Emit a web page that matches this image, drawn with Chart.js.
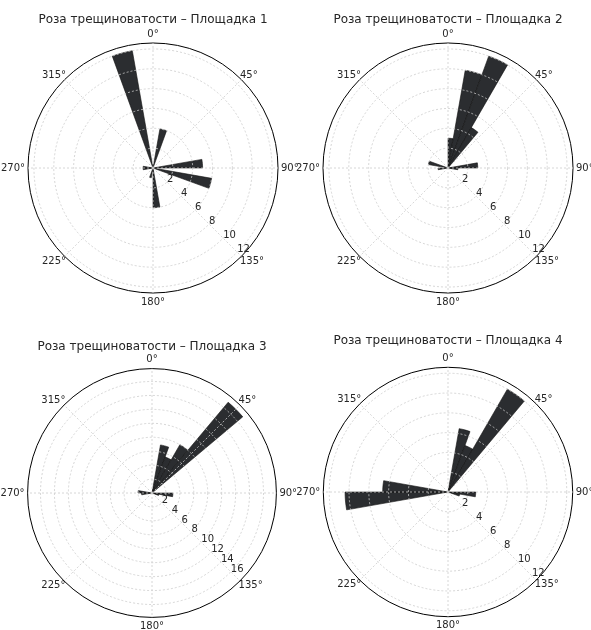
<!DOCTYPE html>
<html lang="ru">
<head>
<meta charset="utf-8">
<title>Роза трещиноватости</title>
<script src="https://cdn.jsdelivr.net/npm/chart.js@4.4.1/dist/chart.umd.min.js"></script>
<style>
  html, body { margin: 0; padding: 0; background: #fff; }
  body { width: 591px; height: 630px; position: relative; overflow: hidden; }
  canvas { position: absolute; }
</style>
</head>
<body>
<canvas id="rose1" width="360" height="320"></canvas>
<canvas id="rose2" width="360" height="320"></canvas>
<canvas id="rose3" width="360" height="320"></canvas>
<canvas id="rose4" width="360" height="320"></canvas>
<script>
'use strict';

// 10-degree strike bins, clockwise from north
const binStarts = [
  0, 10, 20, 30, 40, 50, 60, 70, 80,
  90, 100, 110, 120, 130, 140, 150, 160, 170,
  180, 190, 200, 210, 220, 230, 240, 250, 260,
  270, 280, 290, 300, 310, 320, 330, 340, 350,
];
const angleLabels = ['0°', '45°', '90°', '135°', '180°', '225°', '270°', '315°'];

const titles = [
  'Роза трещиноватости – Площадка 1',
  'Роза трещиноватости – Площадка 2',
  'Роза трещиноватости – Площадка 3',
  'Роза трещиноватости – Площадка 4',
];

const site1 = [
  0, 4, 0, 0, 0, 0, 0, 0, 5,
  0, 6, 0, 0, 0, 0, 0, 0, 4,
  0, 1, 0, 0, 0, 0, 0, 0, 1,
  1, 0, 0, 0, 0, 0, 0, 12, 0,
];
const site2 = [
  3, 10, 12, 4.7, 0, 0, 0, 0, 3,
  1, 0, 0, 0, 0, 0, 0, 0, 0,
  0, 0, 0, 0, 0, 0, 0, 0, 1,
  0, 2, 0, 0, 0, 0, 0, 0, 0,
];
const site3 = [
  0, 7, 5.5, 8, 17, 0, 0, 0, 0,
  3, 1, 0, 0, 0, 0, 0, 0, 0,
  0, 0, 0, 0, 0, 0, 0, 0, 1.5,
  2, 0, 0, 0, 0, 0, 0, 0, 0,
];
const site4 = [
  0, 6.5, 5, 12, 0, 0, 0, 0, 0,
  2.8, 1.2, 0, 0, 0, 0, 0, 0, 0,
  0, 0, 0, 0, 0, 0, 0, 0, 10.4,
  6.6, 0, 0, 0, 0, 0, 0, 0, 0,
];

const rTicks12 = [2, 4, 6, 8, 10, 12];
const rTicks16 = [2, 4, 6, 8, 10, 12, 14, 16];
const rMax12 = 12.6;
const rMax17 = 17.85;

const FONT = 'DejaVu Sans';
const TEXT = '#262626';
const BAR_FILL = '#2b2d30';
const BAR_EDGE = '#111111';
const GRID = '#cccccc';

// radial value labels, drawn along the 135° direction
const radialTickLabels = {
  id: 'radialTickLabels',
  afterDraw(chart, args, opts) {
    const scale = chart.scales.r;
    const ctx = chart.ctx;
    const a = opts.angle * Math.PI / 180;
    ctx.save();
    ctx.font = `10px "${FONT}"`;
    ctx.fillStyle = TEXT;
    ctx.textAlign = 'left';
    ctx.textBaseline = 'alphabetic';
    opts.values.forEach(v => {
      const d = scale.getDistanceFromCenterForValue(v);
      ctx.fillText(String(v), scale.xCenter + d * Math.sin(a), scale.yCenter - d * Math.cos(a));
    });
    ctx.restore();
  },
};

function renderRose(canvasId, title, values, rTicks, rMax, box) {
  const canvas = document.getElementById(canvasId);
  canvas.style.left = box.left + 'px';
  canvas.style.top = box.top + 'px';
  const isOuter = c => c.tick && c.tick.value >= rMax - 1e-9;

  return new Chart(canvas, {
    type: 'polarArea',
    data: {
      labels: binStarts.map(b => `${b}–${b + 10}°`),
      datasets: [{
        data: values,
        backgroundColor: BAR_FILL,
        borderColor: BAR_EDGE,
        borderWidth: c => (c.raw > 0 ? 0.6 : 0),
      }],
    },
    options: {
      responsive: false,
      animation: false,
      devicePixelRatio: 1,
      layout: { padding: { top: 0, left: 0, right: 0, bottom: box.padBottom } },
      plugins: {
        legend: { display: false },
        tooltip: { enabled: false },
        title: {
          display: true,
          text: title,
          color: TEXT,
          font: { family: FONT, size: 12, weight: 'normal', lineHeight: 1.2 },
          padding: { top: box.titleTop, bottom: box.titleBottom },
        },
        radialTickLabels: { values: rTicks, angle: 135 },
      },
      scales: {
        r: {
          min: 0,
          max: rMax,
          bounds: 'data',
          startAngle: 0,
          labels: angleLabels,
          ticks: { display: false, includeBounds: false, stepSize: 2 },
          afterBuildTicks: scale => {
            scale.ticks = [0, ...rTicks, rMax].map(v => ({ value: v }));
          },
          grid: {
            circular: true,
            z: 1,
            color: c => (isOuter(c) ? '#000000' : GRID),
            lineWidth: c => (isOuter(c) ? 1 : 0.8),
          },
          border: { dash: c => (isOuter(c) ? [] : [2, 2]) },
          angleLines: { display: true, color: GRID, lineWidth: 0.8, borderDash: [2, 2] },
          pointLabels: {
            display: true,
            color: TEXT,
            font: { family: FONT, size: 10 },
            padding: c => (c.index % 2 === 0 ? 3 : -2),
          },
        },
      },
    },
    plugins: [radialTickLabels],
  });
}

const boxes = [
  { left: -27, top: 0, titleTop: 12.8, titleBottom: 0.8, padBottom: 12 },
  { left: 268, top: 0, titleTop: 12.8, titleBottom: 0.8, padBottom: 12 },
  { left: -28, top: 320, titleTop: 19.2, titleBottom: 0, padBottom: 6.4 },
  { left: 268, top: 320, titleTop: 13.8, titleBottom: 4.1, padBottom: 7.7 },
];

renderRose('rose1', titles[0], site1, rTicks12, rMax12, boxes[0]);
renderRose('rose2', titles[1], site2, rTicks12, rMax12, boxes[1]);
renderRose('rose3', titles[2], site3, rTicks16, rMax17, boxes[2]);
renderRose('rose4', titles[3], site4, rTicks12, rMax12, boxes[3]);
</script>
</body>
</html>
